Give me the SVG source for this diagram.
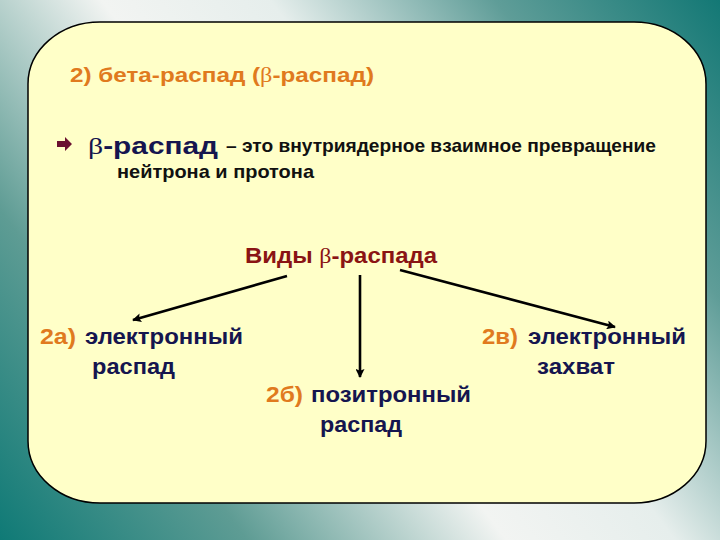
<svg xmlns="http://www.w3.org/2000/svg" width="720" height="540" viewBox="0 0 720 540">
<defs>
<linearGradient id="bg" gradientUnits="userSpaceOnUse" x1="0" y1="540" x2="720" y2="0">
<stop offset="0" stop-color="#0f7a76"/>
<stop offset="0.22" stop-color="#5e9c94"/>
<stop offset="0.45" stop-color="#f2f4f2"/>
<stop offset="0.6" stop-color="#e6eeec"/>
<stop offset="0.8" stop-color="#5f9d98"/>
<stop offset="1" stop-color="#137875"/>
</linearGradient>
<marker id="ah" viewBox="0 0 10 10" refX="9" refY="5" markerWidth="10" markerHeight="9" orient="auto" markerUnits="userSpaceOnUse">
<path d="M0,0 L10,5 L0,10 L2,5 Z" fill="#000"/>
</marker>
<style>
text{font-family:"Liberation Sans",Arial,sans-serif;font-weight:bold}
.b{font-family:"Liberation Serif","Times New Roman",serif;font-weight:normal}
.or{fill:#e07a1e}
.nv{fill:#15154f}
.bk{fill:#111}
.dr{fill:#8a1414}
.conn line{stroke:#000;stroke-width:2.6;marker-end:url(#ah)}
</style>
</defs>
<rect width="720" height="540" fill="url(#bg)"/>
<rect x="28" y="22" width="678" height="481" rx="72" ry="62" fill="#ffffc8" stroke="#000" stroke-width="1.5"/>
<g id="title"><text x="70" y="82" font-size="20" class="or" textLength="304" lengthAdjust="spacingAndGlyphs">2) бета-распад (<tspan class="b">β</tspan>-распад)</text></g>
<g id="definition">
<path d="M57,141 h8 v-4 l7,7 l-7,7 v-4 h-8 z" fill="#6a1030"/>
<text x="88" y="154" font-size="24" class="nv" textLength="130" lengthAdjust="spacingAndGlyphs"><tspan class="b">β</tspan>-распад</text>
<text x="226" y="152" font-size="19" class="bk" textLength="430" lengthAdjust="spacingAndGlyphs">– это внутриядерное взаимное превращение</text>
<text x="117" y="178" font-size="19" class="bk" textLength="197" lengthAdjust="spacingAndGlyphs">нейтрона и протона</text>
</g>
<g id="types"><text x="245" y="263" font-size="22" class="dr" textLength="192" lengthAdjust="spacingAndGlyphs">Виды <tspan class="b">β</tspan>-распада</text></g>
<g id="connectors" class="conn">
<line x1="287" y1="276" x2="133" y2="320"/>
<line x1="360" y1="275" x2="360" y2="377"/>
<line x1="400" y1="270" x2="615" y2="327"/>
</g>
<g id="n2a">
<text x="40" y="344" font-size="22" class="or" textLength="36" lengthAdjust="spacingAndGlyphs">2а)</text>
<text x="85" y="344" font-size="22" class="nv" textLength="158" lengthAdjust="spacingAndGlyphs">электронный</text>
<text x="92" y="374" font-size="22" class="nv" textLength="83" lengthAdjust="spacingAndGlyphs">распад</text>
</g>
<g id="n2b">
<text x="266" y="402" font-size="22" class="or" textLength="37" lengthAdjust="spacingAndGlyphs">2б)</text>
<text x="311" y="402" font-size="22" class="nv" textLength="160" lengthAdjust="spacingAndGlyphs">позитронный</text>
<text x="320" y="432" font-size="22" class="nv" textLength="82" lengthAdjust="spacingAndGlyphs">распад</text>
</g>
<g id="n2v">
<text x="482" y="344" font-size="22" class="or" textLength="36" lengthAdjust="spacingAndGlyphs">2в)</text>
<text x="528" y="344" font-size="22" class="nv" textLength="158" lengthAdjust="spacingAndGlyphs">электронный</text>
<text x="537" y="374" font-size="22" class="nv" textLength="78" lengthAdjust="spacingAndGlyphs">захват</text>
</g>
</svg>
